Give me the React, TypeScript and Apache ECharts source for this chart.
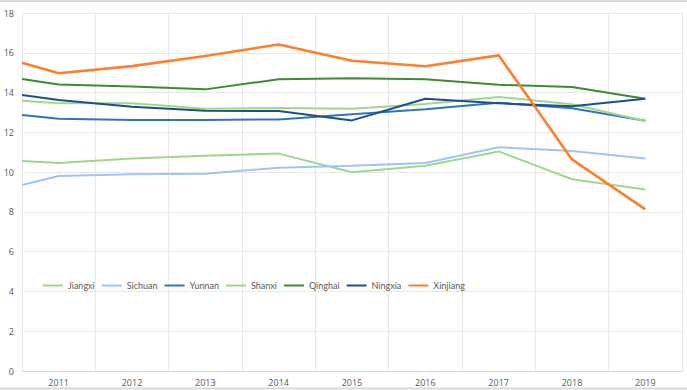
import React, { useEffect, useRef } from "react";
import * as echarts from "echarts";

const years = ["2011", "2012", "2013", "2014", "2015", "2016", "2017", "2018", "2019"];
// x positions of points: left-edge start point, then each year
const xPositions = [2010.5, 2011, 2012, 2013, 2014, 2015, 2016, 2017, 2018, 2019];

const jiangxi = [10.56, 10.46, 10.69, 10.82, 10.93, 9.99, 10.32, 11.04, 9.64, 9.13];
const sichuan = [9.35, 9.8, 9.89, 9.92, 10.22, 10.32, 10.46, 11.25, 11.06, 10.69];
const yunnan = [12.87, 12.68, 12.62, 12.62, 12.65, 12.91, 13.16, 13.49, 13.21, 12.58];
const shanxi = [13.59, 13.46, 13.46, 13.19, 13.22, 13.19, 13.42, 13.78, 13.41, 12.57];
const qinghai = [14.68, 14.41, 14.31, 14.16, 14.67, 14.72, 14.67, 14.39, 14.28, 13.69];
const ningxia = [13.88, 13.62, 13.29, 13.09, 13.07, 12.6, 13.69, 13.46, 13.31, 13.69];
const xinjiang = [15.5, 14.97, 15.33, 15.84, 16.42, 15.6, 15.32, 15.87, 10.64, 8.13];

const seriesDefs = [
  { name: "Jiangxi", data: jiangxi, color: "#9fd88a", width: 2 },
  { name: "Sichuan", data: sichuan, color: "#9ec7ee", width: 2 },
  { name: "Yunnan", data: yunnan, color: "#2e75c0", width: 2 },
  { name: "Shanxi", data: shanxi, color: "#9fd88a", width: 2 },
  { name: "Qinghai", data: qinghai, color: "#3e8a33", width: 2 },
  { name: "Ningxia", data: ningxia, color: "#1f4e87", width: 2 },
  { name: "Xinjiang", data: xinjiang, color: "#ff7f2a", width: 2.6 },
];

export default function App() {
  const ref = useRef<HTMLDivElement>(null);
  useEffect(() => {
    if (!ref.current) return;
    const chart = echarts.init(ref.current, undefined, { renderer: "svg" });
    const font = "'Open Sans', sans-serif";
    chart.setOption({
      animation: false,
      backgroundColor: "#ffffff",
      grid: { left: 22, right: 5, top: 13, bottom: 19, containLabel: false },
      legend: {
        left: 38,
        top: 276,
        itemWidth: 20,
        itemHeight: 2,
        itemGap: 7,
        icon: "rect",
        textStyle: { fontSize: 9, color: "#595959", fontFamily: "Lato, sans-serif" },
        data: seriesDefs.map((s) => s.name),
      },
      xAxis: [
        {
          type: "value",
          min: 2010.5,
          max: 2019.5,
          interval: 1,
          axisLabel: { show: false },
          axisTick: { show: false },
          axisLine: { show: true, lineStyle: { color: "#d9d9d9" } },
          splitLine: { show: true, lineStyle: { color: "#e8e8e8" } },
        },
        {
          type: "category",
          data: years,
          position: "bottom",
          boundaryGap: true,
          axisLine: { show: false },
          axisTick: { show: false },
          splitLine: { show: false },
          axisLabel: { fontSize: 9, color: "#595959", fontFamily: font, margin: 7 },
        },
      ],
      yAxis: {
        type: "value",
        min: 0,
        max: 18,
        interval: 2,
        axisLine: { show: false },
        axisTick: { show: false },
        splitLine: { lineStyle: { color: "#e8e8e8" } },
        axisLabel: { fontSize: 9, color: "#595959", fontFamily: font, margin: 8 },
      },
      series: seriesDefs.map((s) => ({
        name: s.name,
        type: "line",
        xAxisIndex: 0,
        data: s.data.map((v, i) => [xPositions[i], v]),
        symbol: "none",
        color: s.color,
        lineStyle: { width: s.width, color: s.color },
      })),
      graphic: [
        { type: "line", shape: { x1: 0, y1: 1, x2: 687, y2: 1 }, style: { stroke: "#d9d9d9", lineWidth: 2 } },
        { type: "line", shape: { x1: 0, y1: 388.5, x2: 687, y2: 388.5 }, style: { stroke: "#d9d9d9", lineWidth: 2 } },
      ],
    });
    return () => chart.dispose();
  }, []);
  return <div ref={ref} style={{ width: 687, height: 390, position: "absolute", left: 0, top: 0 }} />;
}
